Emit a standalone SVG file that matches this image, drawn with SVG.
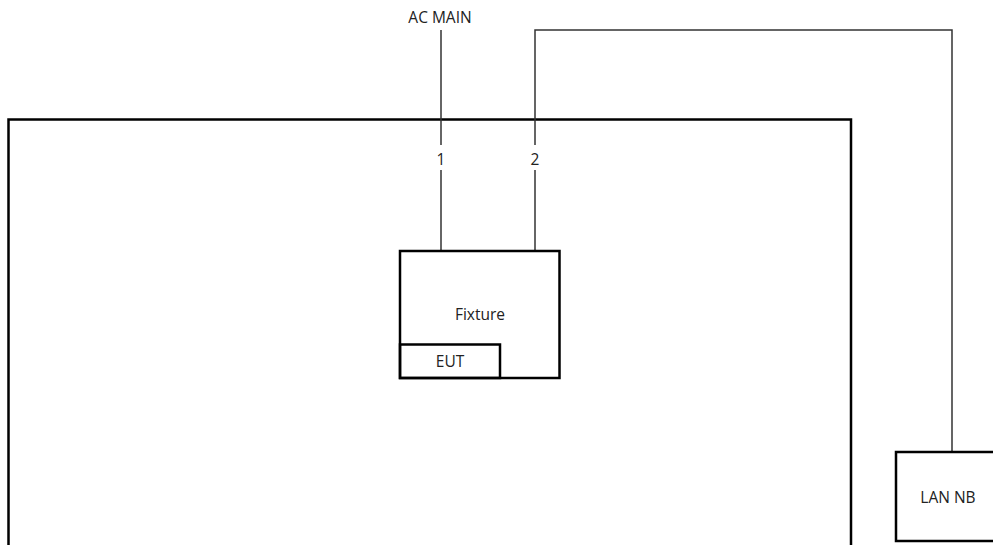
<svg xmlns="http://www.w3.org/2000/svg" width="993" height="545" viewBox="0 0 993 545">
<style>
.box{fill:none;stroke:#000;stroke-width:2.5}
.wire{fill:none;stroke:#333;stroke-width:1.5}
.t{font-family:"Open Sans","Liberation Sans",sans-serif;font-size:15.5px;fill:#222;text-anchor:middle}
</style>
<rect width="993" height="545" fill="#fff"/>
<g id="enclosure"><rect class="box" x="8.5" y="119.5" width="842.5" height="440"/></g>
<g id="connectors">
<polyline class="wire" points="441,30 441,145"/>
<polyline class="wire" points="441,170 441,251"/>
<polyline class="wire" points="535,251 535,170"/>
<polyline class="wire" points="535,145 535,30 952,30 952,452"/>
</g>
<g id="ac-main"><text class="t" x="440" y="23">AC MAIN</text></g>
<g id="port1"><text class="t" x="441" y="165">1</text></g>
<g id="port2"><text class="t" x="535" y="165">2</text></g>
<g id="fixture"><rect class="box" x="400" y="251" width="159.5" height="127"/><text class="t" x="480" y="320">Fixture</text></g>
<g id="eut"><rect class="box" x="400" y="344.5" width="100" height="33.5"/><text class="t" x="450" y="367">EUT</text></g>
<g id="lan-nb"><rect class="box" x="896" y="452" width="110" height="89"/><text class="t" x="948" y="503">LAN NB</text></g>
</svg>
